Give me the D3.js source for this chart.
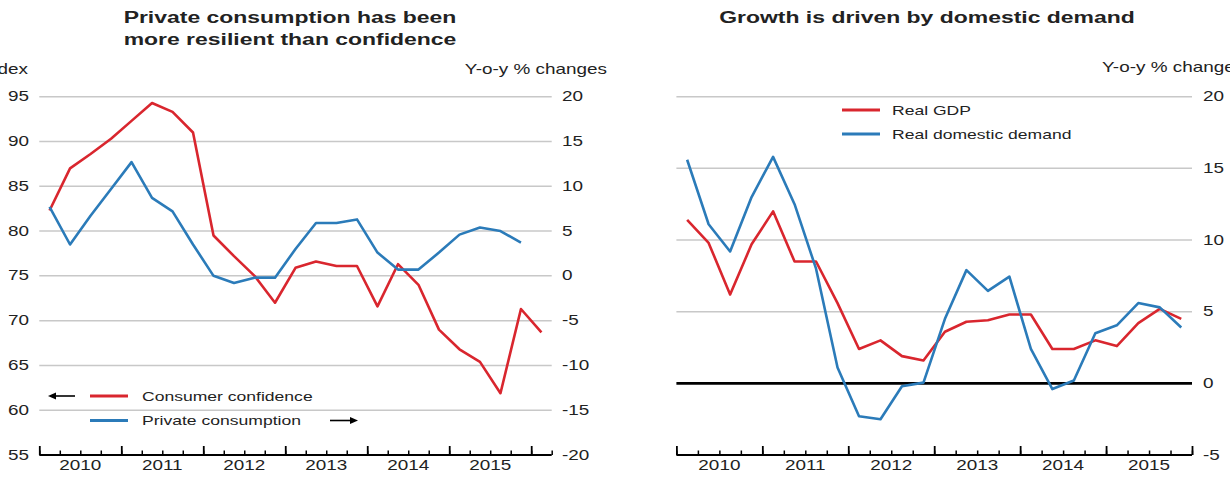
<!DOCTYPE html>
<html>
<head>
<meta charset="utf-8">
<script src="https://cdn.jsdelivr.net/npm/d3@7/dist/d3.min.js"></script>
<style>
  html, body { margin: 0; padding: 0; background: #fff; }
  svg { display: block; }
</style>
</head>
<body>
<div id="chart"></div>
<script>
// Two panels: consumer confidence vs private consumption / GDP vs domestic demand

const QUARTERS = [
  "2010Q1","2010Q2","2010Q3","2010Q4",
  "2011Q1","2011Q2","2011Q3","2011Q4",
  "2012Q1","2012Q2","2012Q3","2012Q4",
  "2013Q1","2013Q2","2013Q3","2013Q4",
  "2014Q1","2014Q2","2014Q3","2014Q4",
  "2015Q1","2015Q2","2015Q3","2015Q4",
  "2016Q1"
];
const YEARS = [2010, 2011, 2012, 2013, 2014, 2015];

// left panel
const CONFIDENCE = [82.3, 87.0, 88.6, 90.3, 92.3, 94.3, 93.3, 91.0, 79.5, 77.2, 75.0, 72.0,
                    75.9, 76.6, 76.1, 76.1, 71.6, 76.3, 74.0, 69.0, 66.8, 65.4, 61.9, 71.3, 68.7];
const CONSUMPTION = [7.7, 3.5, 6.7, 9.7, 12.7, 8.7, 7.2, 3.5, 0.0, -0.8, -0.2, -0.2,
                     3.0, 5.9, 5.9, 6.3, 2.6, 0.7, 0.7, 2.6, 4.6, 5.4, 5.0, 3.7];
const LEFT_TICKS = [55, 60, 65, 70, 75, 80, 85, 90, 95];
const LEFT_RTICKS = [-20, -15, -10, -5, 0, 5, 10, 15, 20];

// right panel
const GDP = [11.4, 9.8, 6.2, 9.7, 12.0, 8.5, 8.5, 5.6, 2.4, 3.0, 1.9, 1.6,
             3.6, 4.3, 4.4, 4.8, 4.8, 2.4, 2.4, 3.0, 2.6, 4.2, 5.2, 4.5];
const DOMESTIC = [15.6, 11.1, 9.2, 13.0, 15.8, 12.5, 8.0, 1.1, -2.3, -2.5, -0.2, 0.05,
                  4.5, 7.9, 6.45, 7.45, 2.4, -0.4, 0.2, 3.5, 4.05, 5.6, 5.3, 3.9];
const RIGHT_TICKS = [-5, 0, 5, 10, 15, 20];

const RED = "#d9262e", BLUE = "#2b7bb9", GRID = "#c8c8c8", INK = "#222";
const FONT = "'Liberation Sans', Arial, sans-serif";
const SX = 1.35;   // the original is stretched horizontally

const qTime = q => +q.slice(0, 4) + (+q.slice(5) - 0.5) / 4;

const svg = d3.select("#chart").append("svg")
  .attr("width", 1230).attr("height", 495);

function label(x, y, txt, opt = {}) {
  return svg.append("text")
    .attr("transform", `translate(${x},${y}) scale(${SX},1)`)
    .attr("text-anchor", opt.anchor || "start")
    .attr("dominant-baseline", opt.baseline || "auto")
    .attr("font-family", FONT)
    .attr("font-size", opt.size || 13)
    .attr("font-weight", opt.weight || "normal")
    .attr("fill", opt.fill || INK)
    .text(txt);
}

function timeAxis(x, yBase, end) {
  const minor = d3.range(2010, end + 0.001, 0.25);
  const g = svg.append("g").attr("transform", `translate(0,${yBase})`);
  g.call(d3.axisTop(x).tickValues(minor).tickSize(4.5).tickSizeOuter(0).tickFormat(""))
    .call(a => a.select(".domain").remove())
    .selectAll("line").attr("stroke", "#000").attr("stroke-width", 1.5);
  const g2 = svg.append("g").attr("transform", `translate(0,${yBase})`);
  g2.call(d3.axisTop(x).tickValues(d3.range(2010, Math.floor(end) + 0.001, 1)).tickSize(9).tickSizeOuter(0).tickFormat(""))
    .call(a => a.select(".domain").remove())
    .selectAll("line").attr("stroke", "#000").attr("stroke-width", 1.8);
  svg.append("line")
    .attr("x1", x.range()[0]).attr("x2", x.range()[1])
    .attr("y1", yBase).attr("y2", yBase)
    .attr("stroke", "#000").attr("stroke-width", 2);
  YEARS.forEach(yr => label(x(yr + 0.5), yBase + 15, yr, { anchor: "middle", size: 14 }));
}

function drawLine(x, y, values, color) {
  const pts = values.map((v, i) => [qTime(QUARTERS[i]), v]);
  svg.append("path")
    .attr("d", d3.line().x(d => x(d[0])).y(d => y(d[1]))(pts))
    .attr("fill", "none").attr("stroke", color)
    .attr("stroke-width", 2.6).attr("stroke-linejoin", "round");
}

function arrow(x1, x2, y) {
  const dir = Math.sign(x2 - x1);
  svg.append("line").attr("x1", x1).attr("x2", x2 - dir * 4).attr("y1", y).attr("y2", y)
    .attr("stroke", "#000").attr("stroke-width", 1.6);
  svg.append("path")
    .attr("d", `M${x2},${y} L${x2 - dir * 8},${y - 3.5} L${x2 - dir * 8},${y + 3.5} Z`)
    .attr("fill", "#000");
}

/* ── Left panel ── */
const xL = d3.scaleLinear().domain([2010, 2016.25]).range([39.3, 551.7]);
const yL = d3.scaleLinear().domain([55, 95]).range([455, 96.7]);
const yLr = d3.scaleLinear().domain([-20, 20]).range([455, 96.7]);

label(290, 23, "Private consumption has been", { anchor: "middle", size: 17, weight: "bold" });
label(290, 45, "more resilient than confidence", { anchor: "middle", size: 17, weight: "bold" });
label(28, 74, "Index", { anchor: "end", size: 14 });
label(607, 74, "Y-o-y % changes", { anchor: "end", size: 14 });

LEFT_TICKS.slice(1).forEach(t => {
  svg.append("line").attr("x1", xL.range()[0]).attr("x2", xL.range()[1])
    .attr("y1", yL(t)).attr("y2", yL(t))
    .attr("stroke", GRID).attr("stroke-width", 1.5);
});
LEFT_TICKS.forEach(t => label(29, yL(t), t, { anchor: "end", baseline: "central", size: 14 }));
LEFT_RTICKS.forEach(t => label(562, yLr(t), t, { baseline: "central", size: 14 }));
timeAxis(xL, yL(55), 2016.25);

drawLine(xL, yL, CONFIDENCE, RED);
drawLine(xL, yLr, CONSUMPTION, BLUE);

// legend
arrow(75, 48, 396);
svg.append("line").attr("x1", 90).attr("x2", 128).attr("y1", 396).attr("y2", 396)
  .attr("stroke", RED).attr("stroke-width", 3);
label(142, 396, "Consumer confidence", { baseline: "central" });
svg.append("line").attr("x1", 90).attr("x2", 128).attr("y1", 420.5).attr("y2", 420.5)
  .attr("stroke", BLUE).attr("stroke-width", 3);
label(142, 420.5, "Private consumption", { baseline: "central" });
arrow(330, 358, 420.5);

/* ── Right panel ── */
const xR = d3.scaleLinear().domain([2010, 2016]).range([676.4, 1192]);
const yR = d3.scaleLinear().domain([-5, 20]).range([455, 96.7]);

label(927, 23, "Growth is driven by domestic demand", { anchor: "middle", size: 17, weight: "bold" });
label(1102, 72, "Y-o-y % changes", { size: 14 });

RIGHT_TICKS.slice(1).forEach(t => {
  svg.append("line").attr("x1", xR.range()[0]).attr("x2", xR.range()[1])
    .attr("y1", yR(t)).attr("y2", yR(t))
    .attr("stroke", t === 0 ? "#000" : GRID).attr("stroke-width", t === 0 ? 2.6 : 1.5);
});
RIGHT_TICKS.forEach(t => label(1203, yR(t), t, { baseline: "central", size: 14 }));
timeAxis(xR, yR(-5), 2016);

drawLine(xR, yR, GDP, RED);
drawLine(xR, yR, DOMESTIC, BLUE);

svg.append("line").attr("x1", 842).attr("x2", 880).attr("y1", 110).attr("y2", 110)
  .attr("stroke", RED).attr("stroke-width", 3);
label(892, 110, "Real GDP", { baseline: "central" });
svg.append("line").attr("x1", 842).attr("x2", 880).attr("y1", 134).attr("y2", 134)
  .attr("stroke", BLUE).attr("stroke-width", 3);
label(892, 134, "Real domestic demand", { baseline: "central" });
</script>
</body>
</html>
